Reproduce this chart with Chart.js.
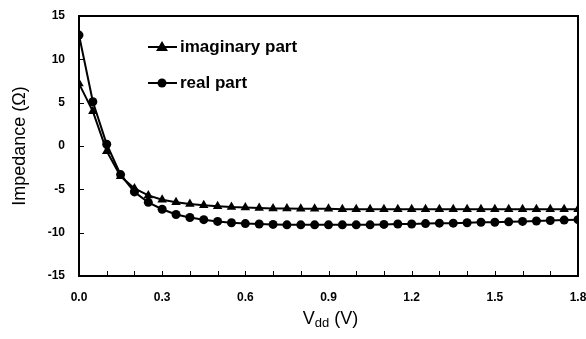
<!DOCTYPE html>
<html>
<head>
<meta charset="utf-8">
<script src="https://cdn.jsdelivr.net/npm/chart.js@4"></script>
<style>
  html, body { margin: 0; padding: 0; background: #fff; }
  #wrap { width: 586px; height: 339px; }
</style>
</head>
<body>
<div id="wrap"><canvas id="impedance"></canvas></div>
<script>
// Vdd (V)
var vdd = [0, 0.05, 0.1, 0.15, 0.2, 0.25, 0.3, 0.35, 0.4, 0.45, 0.5, 0.55, 0.6, 0.65, 0.7, 0.75,
           0.8, 0.85, 0.9, 0.95, 1.0, 1.05, 1.1, 1.15, 1.2, 1.25, 1.3, 1.35, 1.4, 1.45, 1.5,
           1.55, 1.6, 1.65, 1.7, 1.75, 1.8];
var imagPart = [7.2, 4.0, -0.6, -3.5, -4.9, -5.7, -6.2, -6.5, -6.7, -6.85, -6.95, -7.05, -7.1, -7.15,
                -7.2, -7.2, -7.25, -7.25, -7.25, -7.3, -7.3, -7.3, -7.3, -7.3, -7.3, -7.3, -7.3,
                -7.3, -7.3, -7.3, -7.3, -7.3, -7.3, -7.3, -7.3, -7.3, -7.3];
var realPart = [12.8, 5.1, 0.2, -3.3, -5.3, -6.5, -7.3, -7.9, -8.25, -8.5, -8.7, -8.85, -8.95, -9.0,
                -9.05, -9.1, -9.1, -9.1, -9.1, -9.1, -9.1, -9.1, -9.05, -9.0, -9.0, -8.95, -8.9,
                -8.9, -8.85, -8.8, -8.8, -8.75, -8.7, -8.65, -8.6, -8.55, -8.5];
var seriesNames = ['imaginary part', 'real part'];
var xTitle = ['V', 'dd', ' (V)'];
var yTitle = 'Impedance (\u03A9)';

function pts(ys) {
    return vdd.map(function (x, i) { return { x: x, y: ys[i] }; });
}

// box, inward ticks, custom legend and subscripted x title
var decor = {
    id: 'decor',
    afterDraw: function (chart) {
        var c = chart.ctx, a = chart.chartArea;
        var xs = chart.scales.x, ys = chart.scales.y;
        c.save();
        c.strokeStyle = '#000';
        c.lineWidth = 2;
        c.strokeRect(a.left, a.top, a.right - a.left, a.bottom - a.top);
        c.lineWidth = 1;
        c.beginPath();
        xs.ticks.forEach(function (t) {
            var px = Math.round(xs.getPixelForValue(t.value)) + 0.5;
            c.moveTo(px, a.bottom);
            c.lineTo(px, a.bottom - 5);
        });
        ys.ticks.forEach(function (t) {
            var py = Math.round(ys.getPixelForValue(t.value)) + 0.5;
            c.moveTo(a.left, py);
            c.lineTo(a.left + 5, py);
        });
        c.stroke();

        // legend
        var rows = [47, 83];
        chart.data.datasets.forEach(function (ds, i) {
            var y = rows[i];
            c.strokeStyle = '#000';
            c.lineWidth = 2;
            c.beginPath();
            c.moveTo(148, y);
            c.lineTo(177, y);
            c.stroke();
            c.fillStyle = '#000';
            c.beginPath();
            if (ds.pointStyle === 'triangle') {
                c.moveTo(162, y - 6);
                c.lineTo(168, y + 4);
                c.lineTo(156, y + 4);
                c.closePath();
            } else {
                c.arc(162, y, 4.5, 0, Math.PI * 2);
            }
            c.fill();
            c.font = 'bold 17px "Liberation Sans", Arial, sans-serif';
            c.textBaseline = 'middle';
            c.textAlign = 'left';
            c.fillText(ds.label, 180, y);
        });

        // x title with subscript
        var f1 = '18px "Liberation Sans", Arial, sans-serif';
        var f2 = '13px "Liberation Sans", Arial, sans-serif';
        c.font = f1;
        var w1 = c.measureText(xTitle[0]).width, w3 = c.measureText(xTitle[2]).width;
        c.font = f2;
        var w2 = c.measureText(xTitle[1]).width;
        var x0 = (a.left + a.right) / 2 - (w1 + w2 + w3) / 2 + 2;
        var yb = 324;
        c.textBaseline = 'alphabetic';
        c.fillStyle = '#000';
        c.font = f1;
        c.fillText(xTitle[0], x0, yb);
        c.font = f2;
        c.fillText(xTitle[1], x0 + w1, yb + 3);
        c.font = f1;
        c.fillText(xTitle[2], x0 + w1 + w2, yb);
        c.restore();
    }
};

var ctx = document.getElementById('impedance').getContext('2d');
var myChart = new Chart(ctx, {
    type: 'line',
    data: {
        datasets: [{
            label: seriesNames[0],
            data: pts(imagPart),
            borderColor: '#000',
            backgroundColor: '#000',
            borderWidth: 2,
            pointStyle: 'triangle',
            pointRadius: 5.5,
            pointBorderWidth: 0,
            tension: 0
        }, {
            label: seriesNames[1],
            data: pts(realPart),
            borderColor: '#000',
            backgroundColor: '#000',
            borderWidth: 2,
            pointStyle: 'circle',
            pointRadius: 4.5,
            pointBorderWidth: 0,
            tension: 0
        }]
    },
    options: {
        responsive: true,
        maintainAspectRatio: false,
        animation: false,
        layout: { padding: { top: 16, right: 8, left: 0, bottom: 0 } },
        plugins: {
            legend: { display: false },
            tooltip: { enabled: false }
        },
        scales: {
            x: {
                type: 'linear',
                min: 0,
                max: 1.8,
                grid: { display: false, drawTicks: false },
                border: { display: false },
                afterFit: function (s) { s.height = 63; s.paddingLeft = 0; s.paddingRight = 0; },
                afterBuildTicks: function (s) {
                    var t = [];
                    for (var i = 0; i <= 18; i++) t.push({ value: i / 10 });
                    s.ticks = t;
                },
                ticks: {
                    padding: 14,
                    maxRotation: 0,
                    autoSkip: false,
                    color: '#000',
                    font: { family: '"Liberation Sans", Arial, sans-serif', size: 12, weight: 'bold' },
                    callback: function (v, i) { return i % 3 === 0 ? v.toFixed(1) : ''; }
                }
            },
            y: {
                min: -15,
                max: 15,
                grid: { display: false, drawTicks: false },
                border: { display: false },
                afterFit: function (s) { s.width = 79; s.paddingTop = 0; s.paddingBottom = 0; },
                ticks: {
                    stepSize: 5,
                    padding: 14,
                    color: '#000',
                    font: { family: '"Liberation Sans", Arial, sans-serif', size: 12, weight: 'bold' }
                },
                title: {
                    display: true,
                    text: yTitle,
                    color: '#000',
                    padding: { top: 9, bottom: 0 },
                    font: { family: '"Liberation Sans", Arial, sans-serif', size: 18 }
                }
            }
        }
    },
    plugins: [decor]
});
</script>
</body>
</html>
